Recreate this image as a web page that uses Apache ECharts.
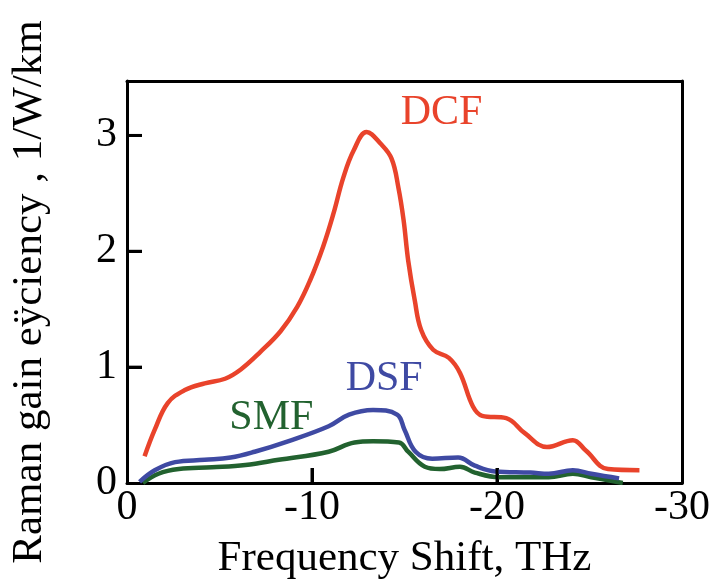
<!DOCTYPE html>
<html>
<head>
<meta charset="utf-8">
<script src="https://cdn.jsdelivr.net/npm/echarts@6/dist/echarts.min.js"></script>
<style>
  html, body { margin: 0; padding: 0; background: #fff; }
  #chart { width: 713px; height: 585px; }
</style>
</head>
<body>
<div id="chart"></div>
<script>
"use strict"

// frequency shift (THz) and Raman gain efficiency (1/W/km)
const dcfX = [-0.95, -1.5, -2.2, -3.1, -4.2, -5.3, -6.15, -7.2, -8.3, -9.2, -9.9, -10.6, -11.15, -11.7, -12.25, -12.95, -13.7, -14.3, -14.67, -14.95, -15.2, -15.55, -15.9, -16.55, -17.4, -18.0, -18.7, -19.2, -20.5, -21.5, -22.7, -24.1, -24.8, -26.0, -27.7];
const dcfY = [0.23, 0.46, 0.69, 0.80, 0.86, 0.90, 0.98, 1.13, 1.31, 1.52, 1.75, 2.04, 2.32, 2.64, 2.87, 3.03, 2.93, 2.80, 2.55, 2.27, 1.92, 1.58, 1.32, 1.15, 1.08, 0.95, 0.66, 0.58, 0.56, 0.43, 0.31, 0.37, 0.28, 0.12, 0.11];

const dsfX = [-0.68, -1.5, -2.6, -4.2, -5.6, -6.9, -8.7, -10.9, -12.0, -13.3, -14.6, -15.0, -15.6, -16.5, -17.9, -18.8, -19.9, -21.8, -22.8, -24.1, -25.1, -26.6];
const dsfY = [0.01, 0.11, 0.18, 0.20, 0.22, 0.27, 0.36, 0.49, 0.59, 0.63, 0.59, 0.46, 0.27, 0.21, 0.22, 0.15, 0.10, 0.09, 0.08, 0.11, 0.08, 0.04];

const smfX = [-0.86, -1.7, -2.8, -4.6, -6.4, -8.2, -10.9, -12.3, -13.3, -14.7, -15.2, -16.1, -16.9, -18.0, -18.8, -20.1, -21.8, -22.8, -24.1, -25.1, -26.8];
const smfY = [0.0, 0.08, 0.12, 0.135, 0.155, 0.20, 0.27, 0.35, 0.36, 0.35, 0.27, 0.14, 0.12, 0.14, 0.09, 0.05, 0.05, 0.05, 0.08, 0.05, 0.0];

const xTicks = [-10, -20];
const yTicks = [1, 2, 3];

const seriesNames = ["DCF", "DSF", "SMF"];
// where each curve's name sits, in data units
const nameAt = [[-17.0, 3.19], [-13.9, 0.90], [-7.8, 0.56]];

const colors = ["#E9432B", "#3F4AA3", "#22622F"];
const font = "'Liberation Serif', 'DejaVu Serif', serif";

const zip = (xs, ys) => xs.map((x, i) => [x, ys[i]]);
const curves = [zip(dcfX, dcfY), zip(dsfX, dsfY), zip(smfX, smfY)];

const myChart = echarts.init(document.getElementById("chart"), null, { renderer: "canvas" });

const frameLine = () => ({ show: true, onZero: false, lineStyle: { color: "#000", width: 3 } });
const tick = () => ({ show: true, inside: true, length: 15, lineStyle: { color: "#000", width: 3 } });

// bare axes that close the frame on top and right
const frameX = { type: "value", position: "top", min: -30, max: 0, inverse: true, axisLine: frameLine(), axisTick: { show: false }, axisLabel: { show: false }, splitLine: { show: false } };
const frameY = { type: "value", position: "right", min: 0, max: 3.47, axisLine: frameLine(), axisTick: { show: false }, axisLabel: { show: false }, splitLine: { show: false } };

const option = {
    animation: false,
    backgroundColor: "#fff",
    grid: { left: 127, right: 31, top: 81, bottom: 102 },
    xAxis: [{
        type: "value",
        position: "bottom",
        min: -30, max: 0, interval: 10,
        inverse: true,
        name: "Frequency Shift, THz",
        nameLocation: "middle",
        nameGap: 54,
        nameTextStyle: { fontFamily: font, fontSize: 43, color: "#000" },
        axisLine: frameLine(),
        axisTick: tick(),
        axisLabel: { fontFamily: font, fontSize: 42, color: "#000", margin: 4 },
        splitLine: { show: false }
    }, frameX],
    yAxis: [{
        type: "value",
        position: "left",
        min: 0, max: 3.47, interval: 1,
        name: "Raman gain eÿciency , 1/W/km",
        nameLocation: "middle",
        nameGap: 76,
        nameTextStyle: { fontFamily: font, fontSize: 43, color: "#000", padding: [0, 20, 0, 0] },
        axisLine: frameLine(),
        axisTick: tick(),
        axisLabel: { fontFamily: font, fontSize: 42, color: "#000", margin: 10, showMaxLabel: false },
        splitLine: { show: false }
    }, frameY],
    series: curves.map((data, i) => ({
        name: seriesNames[i],
        type: "line",
        data: data,
        smooth: 0.4,
        showSymbol: false,
        z: 3 - i,
        lineStyle: { color: colors[i], width: 4.5 },
        markPoint: {
            symbol: "circle",
            symbolSize: 0,
            data: [{ coord: nameAt[i], value: seriesNames[i] }],
            label: { show: true, position: "inside", formatter: seriesNames[i], fontFamily: font, fontSize: 42, color: colors[i] }
        }
    }))
};

myChart.setOption(option);

// inward ticks, placed through the axes' own scales
const toPx = (x, y) => myChart.convertToPixel({ xAxisIndex: 0, yAxisIndex: 0 }, [x, y]);
const tickLen = 15;
const tickShape = (x1, y1, x2, y2) => ({ type: "line", z: 10, silent: true, shape: { x1, y1, x2, y2 }, style: { stroke: "#000", lineWidth: 3 } });
const ticks = [];
xTicks.forEach(v => { const p = toPx(v, 0); ticks.push(tickShape(p[0], p[1], p[0], p[1] - tickLen)); });
yTicks.forEach(v => { const p = toPx(0, v); ticks.push(tickShape(p[0], p[1], p[0] + tickLen, p[1])); });
myChart.setOption({ graphic: ticks });
</script>
</body>
</html>
